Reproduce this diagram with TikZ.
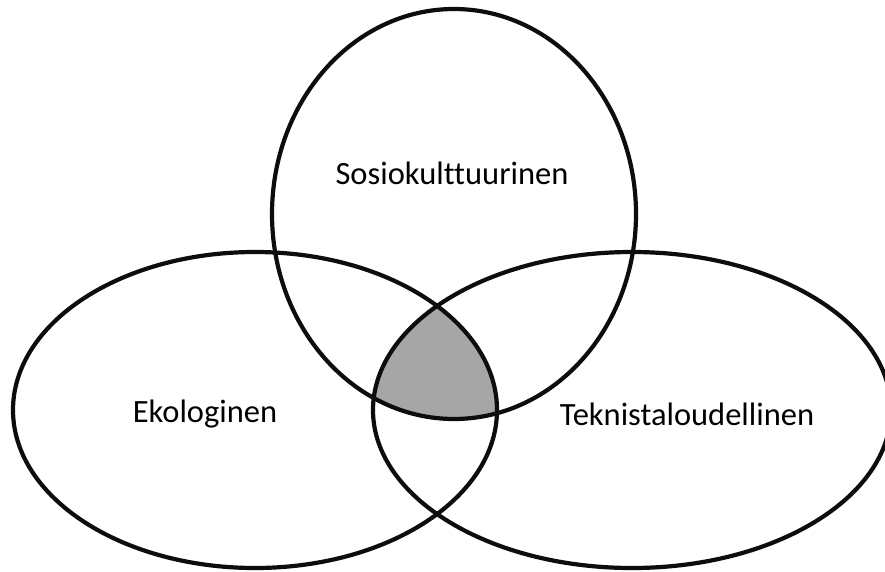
\documentclass[tikz,border=0pt]{standalone}
\usepackage{fontspec}
\setmainfont[Ligatures=NoCommon]{Carlito}
\definecolor{coregray}{HTML}{A6A6A6}
\begin{document}
\begin{tikzpicture}[x=1pt,y=-1pt,
  ring/.style={line width=4.2pt,draw=black!95},
  lbl/.style={font=\fontsize{32.5}{36}\selectfont,inner sep=0pt}]
\useasboundingbox (0,0) rectangle (885,572);
% shared core of the three areas
\begin{scope}
  \clip (454,214) ellipse [x radius=182,y radius=205];
  \clip (255,410) ellipse [x radius=242,y radius=158];
  \fill[coregray] (632,410) ellipse [x radius=259,y radius=158];
\end{scope}
% the three areas
\draw[ring] (454,214) ellipse [x radius=182,y radius=205];
\draw[ring] (255,410) ellipse [x radius=242,y radius=158];
\draw[ring] (632,410) ellipse [x radius=259,y radius=158];
% labels
\node[lbl] (soc) at (452,173) {Sosiokulttuurinen};
\node[lbl] (eko) at (205,414) {Ekologinen};
\node[lbl] (tek) at (687,414) {Teknistaloudellinen};
\end{tikzpicture}
\end{document}
